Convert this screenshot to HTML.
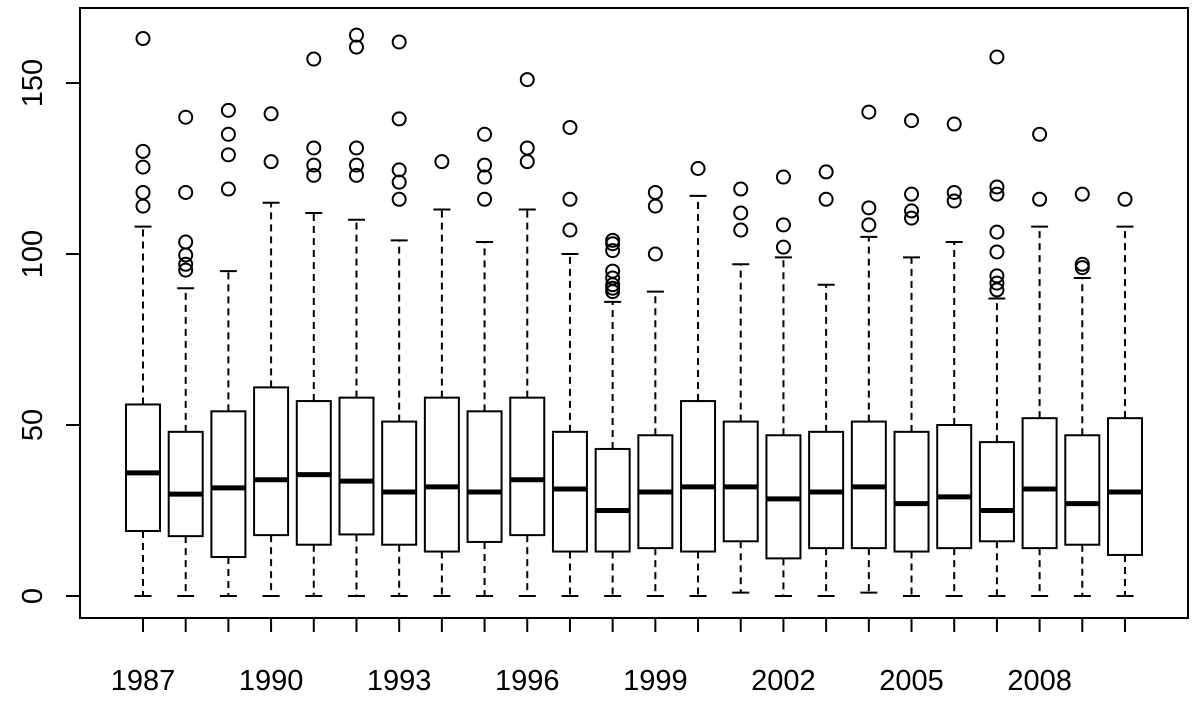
<!DOCTYPE html>
<html><head><meta charset="utf-8"><style>
html,body{margin:0;padding:0;background:#fff;}
svg{display:block;}
text{font-family:"Liberation Sans",Arial,sans-serif;fill:#000;}
</style></head><body>
<svg id="chart" width="1201" height="702" viewBox="0 0 1201 702" xmlns="http://www.w3.org/2000/svg">
<rect x="0" y="0" width="1201" height="702" fill="#fff"/>
<rect x="80" y="8" width="1108" height="610" fill="none" stroke="#000" stroke-width="2"/>
<g id="marks"></g>
<g id="axes"></g>
</svg>
<script>
const years = [1987,1988,1989,1990,1991,1992,1993,1994,1995,1996,1997,1998,1999,2000,2001,2002,2003,2004,2005,2006,2007,2008,2009,2010];
const lowWhisker = [0,0,0,0,0,0,0,0,0,0,0,0,0,0,1,0,0,1,0,0,0,0,0,0];
const q1Values = [19,17.5,11.4,17.8,15,18,15,13,15.8,17.8,13,13,14,13,16,11,14,14,13,14,16,14,15,12];
const medianValues = [36,29.8,31.6,34,35.5,33.6,30.4,31.9,30.4,34,31.3,25,30.4,31.9,31.9,28.4,30.4,31.9,27,29,25,31.3,27,30.4];
const q3Values = [56,48,54,61,57,58,51,58,54,58,48,43,47,57,51,47,48,51,48,50,45,52,47,52];
const highWhisker = [108,90,95,115,112,110,104,113,103.5,113,100,86,89,117,97,99,91,105,99,103.5,87,108,93,108];
const outliers = [
 [163,130,125.4,118,114],
 [140,118,103.5,99.7,97,95.3],
 [142,135,129,119],
 [141,127],
 [157,131,126,123],
 [164,160.5,131,126,123],
 [162,139.5,124.6,121,116],
 [127],
 [135,126,122.5,116],
 [151,131,127],
 [137,116,107],
 [104,103,101,95,93,91,90,89],
 [118,114,100],
 [125],
 [119,112,107],
 [122.5,108.5,102],
 [124,116],
 [141.5,113.5,108.5],
 [139,117.5,112.6,110.5],
 [138,118,115.5],
 [157.6,119.6,117.5,106.4,100.6,93.6,91.5,89.5],
 [135,116],
 [117.5,97,96],
 [116]
];
const yTicks = [0,50,100,150];
const xLabelYears = [1987,1990,1993,1996,1999,2002,2005,2008];

const NS = "http://www.w3.org/2000/svg";
const y = v => 596 - v * 3.42;
const x = i => 143 + i * (1125 - 143) / (years.length - 1);
const marks = document.getElementById('marks');
const axes = document.getElementById('axes');
function mk(tag, attrs, parent){
  const e = document.createElementNS(NS, tag);
  for (const k in attrs) e.setAttribute(k, attrs[k]);
  parent.appendChild(e);
  return e;
}
const bw = 17, cw = 8.5;
years.forEach((yr, i) => {
  const cx = x(i);
  const g = mk('g', {}, marks);
  
  
  mk('line', {x1:cx,x2:cx,y1:y(q3Values[i]),y2:y(highWhisker[i]),stroke:'#000','stroke-width':2,'stroke-dasharray':'7,5'}, g);
  mk('line', {x1:cx,x2:cx,y1:y(q1Values[i]),y2:y(lowWhisker[i]),stroke:'#000','stroke-width':2,'stroke-dasharray':'7,5'}, g);
  mk('line', {x1:cx-cw,x2:cx+cw,y1:y(highWhisker[i]),y2:y(highWhisker[i]),stroke:'#000','stroke-width':2}, g);
  mk('line', {x1:cx-cw,x2:cx+cw,y1:y(lowWhisker[i]),y2:y(lowWhisker[i]),stroke:'#000','stroke-width':2}, g);
  mk('rect', {x:cx-bw,y:y(q3Values[i]),width:2*bw,height:y(q1Values[i])-y(q3Values[i]),fill:'#fff',stroke:'#000','stroke-width':2}, g);
  mk('line', {x1:cx-bw,x2:cx+bw,y1:y(medianValues[i]),y2:y(medianValues[i]),stroke:'#000','stroke-width':5}, g);
  outliers[i].forEach(v => {
    const c = mk('circle', {cx:cx,cy:y(v),r:6.5,fill:'none',stroke:'#000','stroke-width':2}, g);
    
    
  });
});
const ya = mk('g', {}, axes);


mk('line', {x1:80,x2:80,y1:y(0),y2:y(150),stroke:'#000','stroke-width':2}, ya);
yTicks.forEach(t => {
  mk('line', {x1:66,x2:80,y1:y(t),y2:y(t),stroke:'#000','stroke-width':2}, ya);
  const tx = mk('text', {x:42,y:y(t),'font-size':29,'text-anchor':'middle',transform:'rotate(-90 42 '+y(t)+')'}, ya);
  tx.textContent = t;
  
  
});
const xa = mk('g', {}, axes);


mk('line', {x1:x(0),x2:x(years.length-1),y1:618,y2:618,stroke:'#000','stroke-width':2}, xa);
years.forEach((yr, i) => {
  mk('line', {x1:x(i),x2:x(i),y1:618,y2:632,stroke:'#000','stroke-width':2}, xa);
});
xLabelYears.forEach(yr => {
  const i = years.indexOf(yr);
  const tx = mk('text', {x:x(i),y:690,'font-size':29,'text-anchor':'middle'}, xa);
  tx.textContent = yr;
  
  
});
</script>
</body></html>
